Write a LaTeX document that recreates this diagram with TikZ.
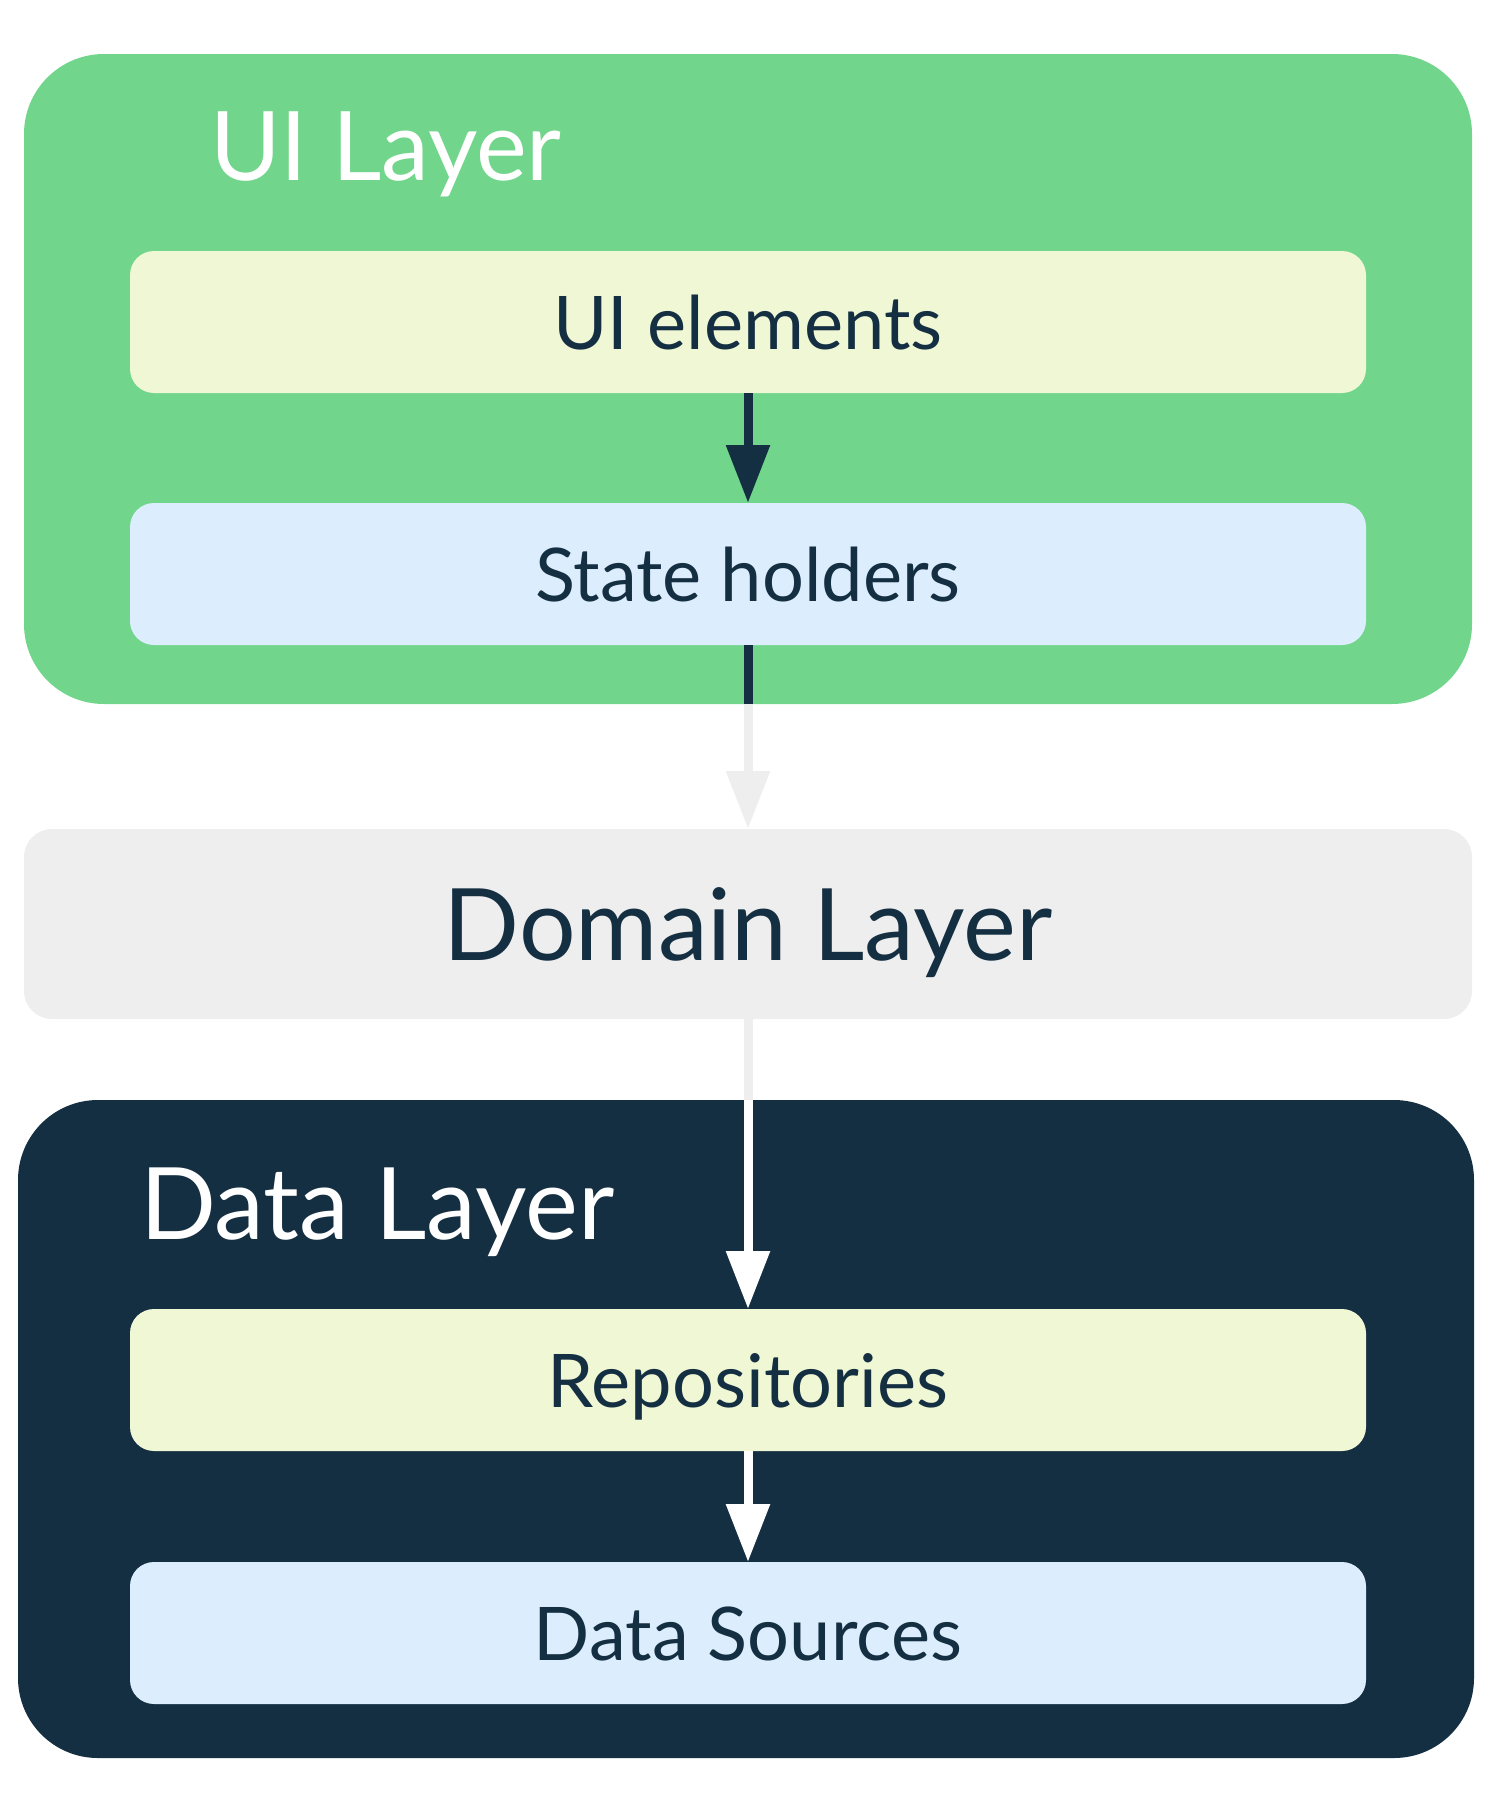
\documentclass[tikz,border=0pt]{standalone}
\usepackage{fontspec}
\setmainfont{Lato}
\usetikzlibrary{arrows.meta}
\definecolor{uigreen}{HTML}{71D58B}
\definecolor{navy}{HTML}{152F42}
\definecolor{domgray}{HTML}{EEEEEE}
\definecolor{boxyellow}{HTML}{F0F7D4}
\definecolor{boxblue}{HTML}{DCEEFD}
\begin{document}
\begin{tikzpicture}[x=0.5pt,y=-0.5pt,>={Triangle[width=21pt,length=29pt]},line width=4.5pt,
    every node/.style={outer sep=0pt},
    layer/.style={rectangle,rounded corners=40pt,minimum width=724pt,inner sep=0pt},
    box/.style={rectangle,rounded corners=12pt,minimum width=618pt,minimum height=71pt,
        inner sep=0pt,text=navy,text height=27pt,text depth=0pt,font=\fontsize{37}{44}\selectfont},
    title/.style={anchor=base west,inner sep=0pt,text=white,font=\fontsize{48}{56}\selectfont}]
    \useasboundingbox (0,0) rectangle (1500,1815);
    % UI layer
    \node[layer,fill=uigreen,minimum height=325pt] (UI) at (748,379) {};
    \node[title] (UI_T) at (210,180) {UI Layer};
    \node[box,fill=boxyellow] (UI_E) at (748,322) {UI elements};
    \node[box,fill=boxblue] (S_H) at (748,574) {State holders};
    % domain layer
    \node[layer,fill=domgray,rounded corners=14pt,minimum height=95pt,text=navy,
        text height=36pt,text depth=0pt,font=\fontsize{50}{60}\selectfont] (DOM) at (748,924) {Domain Layer};
    % data layer
    \node[layer,fill=navy,minimum width=728pt,minimum height=329pt] (DATA) at (746,1429) {};
    \node[title,font=\fontsize{50}{58}\selectfont] (DATA_T) at (140,1239) {Data Layer};
    \node[box,fill=boxyellow] (REPO) at (748,1380) {Repositories};
    \node[box,fill=boxblue] (SRC) at (748,1633) {Data Sources};
    % arrows
    \draw[->,navy] (UI_E) -- (S_H);
    \draw[->,domgray] (S_H) -- (DOM);
    \draw[navy] (S_H.south) -- (S_H.south |- UI.south);
    \draw[->,white] (DOM) -- (REPO);
    \draw[domgray] (DOM.south) -- (DOM.south |- DATA.north);
    \draw[->,white] (REPO) -- (SRC);
\end{tikzpicture}
\end{document}
